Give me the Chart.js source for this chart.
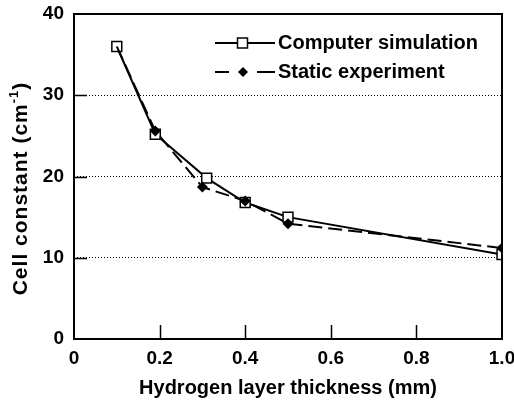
<!DOCTYPE html>
<html>
<head>
<meta charset="utf-8">
<script src="https://cdn.jsdelivr.net/npm/chart.js@4/dist/chart.umd.min.js"></script>
<style>
    html, body { margin: 0; padding: 0; background: #fff; }
    #wrap { width: 514px; height: 403px; }
</style>
</head>
<body>
<div id="wrap"><canvas id="cellChart" width="514" height="403"></canvas></div>
<script>
// hydrogen layer thickness (mm) vs. cell constant (1/cm)
const simThickness = [0.1, 0.19, 0.31, 0.4, 0.5, 1.0];
const simCellConstant = [36.0, 25.2, 19.8, 16.8, 15.0, 10.4];
const expThickness = [0.1, 0.19, 0.3, 0.4, 0.5, 1.0];
const expCellConstant = [36.0, 25.6, 18.7, 17.0, 14.2, 11.2];
const seriesNames = ["Computer simulation", "Static experiment"];
const xTicks = [0, 0.2, 0.4, 0.6, 0.8, 1.0];
const yTicks = [0, 10, 20, 30, 40];

const FONT = "'Liberation Sans', Arial, sans-serif";

function toPoints(xs, ys) {
    return xs.map((x, i) => ({ x: x, y: ys[i] }));
}

// frame, inward tick marks, y title with superscript and the legend box
const decorations = {
    id: "decorations",
    afterDraw(chart) {
        const ctx = chart.ctx;
        const area = chart.chartArea;
        const xs = chart.scales.x;
        const ys = chart.scales.y;

        ctx.save();
        ctx.strokeStyle = "#000";
        ctx.lineWidth = 2;
        ctx.strokeRect(area.left, area.top, area.right - area.left, area.bottom - area.top);

        ctx.lineWidth = 1.5;
        ctx.beginPath();
        yTicks.forEach(v => {
            if (v === 0 || v === 40) return;
            const py = Math.round(ys.getPixelForValue(v)) + 0.5;
            ctx.moveTo(area.left, py);
            ctx.lineTo(area.left + 13, py);
        });
        xTicks.forEach(v => {
            if (v === 0 || v === 1.0) return;
            const px = Math.round(xs.getPixelForValue(v)) + 0.5;
            ctx.moveTo(px, area.bottom);
            ctx.lineTo(px, area.bottom - 14);
        });
        ctx.stroke();

        // y axis title
        ctx.fillStyle = "#000";
        ctx.translate(27, (area.top + area.bottom) / 2 + 12);
        ctx.rotate(-Math.PI / 2);
        ctx.textBaseline = "alphabetic";
        ctx.letterSpacing = "1px";
        const main = "Cell constant (cm";
        const sup = "-1";
        ctx.font = "bold 21px " + FONT;
        const w1 = ctx.measureText(main).width;
        ctx.font = "bold 13px " + FONT;
        const w2 = ctx.measureText(sup).width;
        ctx.font = "bold 21px " + FONT;
        const w3 = ctx.measureText(")").width;
        const x0 = -(w1 + w2 + w3) / 2;
        ctx.fillText(main, x0, 0);
        ctx.font = "bold 13px " + FONT;
        ctx.fillText(sup, x0 + w1, -9);
        ctx.font = "bold 21px " + FONT;
        ctx.fillText(")", x0 + w1 + w2, 0);
        ctx.restore();

        // legend
        ctx.save();
        const lx = area.left + 141;
        const rows = [area.top + 29, area.top + 58];
        ctx.strokeStyle = "#000";
        ctx.lineWidth = 2;
        ctx.beginPath();
        ctx.moveTo(lx, rows[0]);
        ctx.lineTo(lx + 60, rows[0]);
        ctx.stroke();
        ctx.fillStyle = "#fff";
        ctx.lineWidth = 1.5;
        ctx.fillRect(lx + 22.5, rows[0] - 5, 10, 10);
        ctx.strokeRect(lx + 22.5, rows[0] - 5, 10, 10);

        ctx.lineWidth = 2;
        ctx.beginPath();
        ctx.moveTo(lx, rows[1]);
        ctx.lineTo(lx + 14, rows[1]);
        ctx.moveTo(lx + 42, rows[1]);
        ctx.lineTo(lx + 60, rows[1]);
        ctx.stroke();
        ctx.fillStyle = "#000";
        ctx.beginPath();
        ctx.moveTo(lx + 28, rows[1] - 5);
        ctx.lineTo(lx + 33, rows[1]);
        ctx.lineTo(lx + 28, rows[1] + 5);
        ctx.lineTo(lx + 23, rows[1]);
        ctx.closePath();
        ctx.fill();

        ctx.font = "bold 20px " + FONT;
        ctx.textBaseline = "middle";
        ctx.fillText(seriesNames[0], lx + 63, rows[0]);
        ctx.fillText(seriesNames[1], lx + 63, rows[1]);
        ctx.restore();
    }
};

new Chart(document.getElementById("cellChart"), {
    type: "line",
    data: {
        datasets: [
            {
                label: seriesNames[1],
                data: toPoints(expThickness, expCellConstant),
                borderColor: "#000",
                borderWidth: 2,
                borderDash: [14, 6],
                backgroundColor: "#000",
                pointStyle: "rectRot",
                pointRadius: expThickness.map((x, i) => i === 0 ? 0 : 5.5),
                pointBorderWidth: 0,
                tension: 0,
                order: 1
            },
            {
                label: seriesNames[0],
                data: toPoints(simThickness, simCellConstant),
                borderColor: "#000",
                borderWidth: 2,
                backgroundColor: "#fff",
                pointStyle: "rect",
                pointRadius: 7,
                pointBorderWidth: 1.5,
                tension: 0,
                order: 2
            }
        ]
    },
    options: {
        responsive: false,
        animation: false,
        layout: { padding: { top: 14, right: 12, left: 0, bottom: 0 } },
        plugins: {
            legend: { display: false },
            tooltip: { enabled: false }
        },
        scales: {
            x: {
                type: "linear",
                min: 0,
                max: 1.0,
                afterFit(scale) {
                    scale.height = 64;
                    scale.paddingLeft = 0;
                    scale.paddingRight = 0;
                },
                afterBuildTicks(scale) {
                    scale.ticks = xTicks.map(v => ({ value: v }));
                },
                grid: { display: false, drawTicks: false },
                border: { display: false },
                ticks: {
                    padding: 8,
                    maxRotation: 0,
                    color: "#000",
                    font: { family: FONT, size: 19, weight: "bold" },
                    callback: v => v === 0 ? "0" : v.toFixed(1)
                },
                title: {
                    display: true,
                    text: "Hydrogen layer thickness (mm)",
                    color: "#000",
                    font: { family: FONT, size: 20, weight: "bold" },
                    padding: { top: 0, bottom: 3 }
                }
            },
            y: {
                min: 0,
                max: 40,
                afterFit(scale) {
                    scale.width = 74;
                    scale.paddingTop = 0;
                    scale.paddingBottom = 0;
                },
                afterBuildTicks(scale) {
                    scale.ticks = yTicks.map(v => ({ value: v }));
                },
                grid: {
                    drawTicks: false,
                    lineWidth: 1,
                    color: c => (c.tick && c.tick.value > 0 && c.tick.value < 40) ? "#000" : "rgba(0,0,0,0)"
                },
                border: { display: false, dash: [1, 2] },
                ticks: {
                    padding: 10,
                    color: "#000",
                    font: { family: FONT, size: 19, weight: "bold" }
                }
            }
        }
    },
    plugins: [decorations]
});
</script>
</body>
</html>
